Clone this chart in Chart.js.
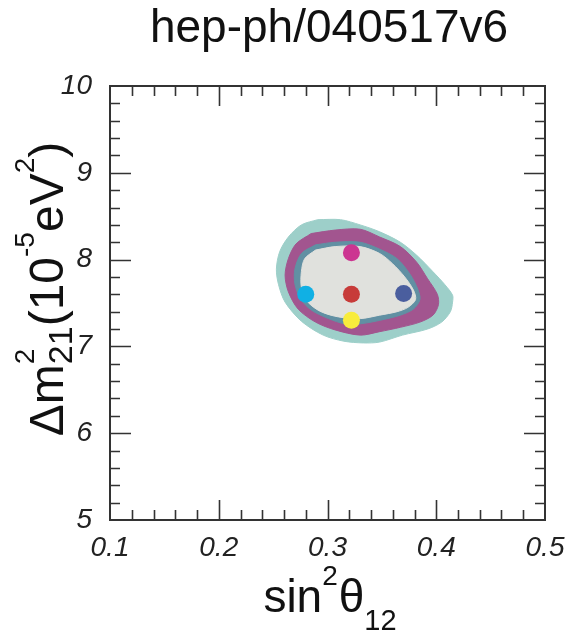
<!DOCTYPE html>
<html>
<head>
<meta charset="utf-8">
<title>hep-ph/040517v6</title>
<script src="https://cdn.jsdelivr.net/npm/chart.js@4.4.0/dist/chart.umd.min.js"></script>
<style>
  html, body { margin: 0; padding: 0; background: #fff; }
  #wrap { width: 569px; height: 633px; position: relative; }
</style>
</head>
<body>
<div id="wrap"><canvas id="fitChart"></canvas></div>
<script>
// Allowed regions in the (sin^2 theta12, dm^2_21) plane, outermost first
const outerX = [0.291, 0.312, 0.330, 0.348, 0.367, 0.382, 0.397, 0.408, 0.415, 0.415, 0.413, 0.405, 0.392, 0.369, 0.348, 0.333, 0.315, 0.296, 0.276, 0.261, 0.255, 0.253, 0.256, 0.264, 0.276];
const outerY = [8.46, 8.46, 8.40, 8.32, 8.20, 8.05, 7.86, 7.71, 7.59, 7.51, 7.40, 7.28, 7.20, 7.13, 7.05, 7.04, 7.06, 7.13, 7.29, 7.51, 7.71, 7.89, 8.09, 8.26, 8.40];

const midX = [0.285, 0.307, 0.330, 0.348, 0.367, 0.382, 0.392, 0.401, 0.402, 0.397, 0.385, 0.367, 0.348, 0.330, 0.307, 0.289, 0.273, 0.264, 0.261, 0.264, 0.271];
const midY = [8.30, 8.34, 8.35, 8.26, 8.15, 7.97, 7.78, 7.60, 7.48, 7.36, 7.28, 7.22, 7.17, 7.13, 7.19, 7.28, 7.43, 7.63, 7.82, 8.01, 8.18];

const bandX = [0.289, 0.307, 0.330, 0.348, 0.364, 0.376, 0.383, 0.385, 0.379, 0.367, 0.348, 0.330, 0.316, 0.301, 0.285, 0.275, 0.270, 0.270, 0.276];
const bandY = [8.17, 8.20, 8.20, 8.12, 8.01, 7.83, 7.66, 7.54, 7.43, 7.36, 7.30, 7.26, 7.26, 7.32, 7.42, 7.55, 7.72, 7.89, 8.07];

const innerX = [0.289, 0.307, 0.330, 0.348, 0.360, 0.371, 0.379, 0.381, 0.374, 0.364, 0.348, 0.330, 0.310, 0.294, 0.282, 0.276, 0.276, 0.279];
const innerY = [8.11, 8.15, 8.15, 8.07, 7.95, 7.80, 7.65, 7.54, 7.45, 7.40, 7.36, 7.32, 7.34, 7.40, 7.51, 7.68, 7.86, 8.01];

// Best-fit / benchmark points
const dotX = [0.322, 0.322, 0.280, 0.370, 0.322];
const dotY = [8.08, 7.60, 7.60, 7.61, 7.30];

// Axis ranges and tick steps
const xRange = [0.1, 0.5];
const yRange = [5, 10];
const xMajor = 0.1, xMinor = 0.02;
const yMajor = 1, yMinor = 0.2;

const dotColors = ['#cc3591', '#c73b39', '#10b0e4', '#4a5e9e', '#f8ec3c'];
const regionColors = ['#9dcfc9', '#a2558f', '#6190a3', '#e0e1dd'];

const FONT = '"Liberation Sans", Arial, Helvetica, sans-serif';
const font = (size, style) => (style ? style + ' ' : '') + size + 'px ' + FONT;

function closed(xs, ys) {
    const pts = xs.map((x, i) => ({ x: x, y: ys[i] }));
    pts.push(pts[0]);
    return pts;
}

function region(xs, ys, color, order) {
    return {
        data: closed(xs, ys),
        showLine: true,
        fill: 'shape',
        backgroundColor: color,
        borderColor: color,
        borderWidth: 1,
        pointRadius: 0,
        tension: 0.3,
        order: order
    };
}

// Text with super/subscripts; parts are laid out along the baseline
function drawRich(ctx, parts, cx, cy, angle) {
    const widths = parts.map(p => {
        ctx.font = font(p.size);
        let w = ctx.measureText(p.text).width;
        if (p.under) {
            ctx.font = font(p.under.size);
            w = Math.max(w, ctx.measureText(p.under.text).width);
        }
        return w + (p.kern || 0);
    });
    const total = widths.reduce((a, b) => a + b, 0);
    ctx.save();
    ctx.translate(cx, cy);
    ctx.rotate(angle);
    ctx.textAlign = 'left';
    ctx.textBaseline = 'alphabetic';
    ctx.fillStyle = '#111';
    let x = -total / 2;
    parts.forEach((p, i) => {
        ctx.font = font(p.size);
        ctx.fillText(p.text, x, p.shift || 0);
        if (p.under) {
            ctx.font = font(p.under.size);
            ctx.fillText(p.under.text, x, p.under.shift);
        }
        x += widths[i];
    });
    ctx.restore();
}

const framePlugin = {
    id: 'frame',
    afterDraw(chart) {
        const ctx = chart.ctx;
        const a = chart.chartArea;
        const xs = chart.scales.x, ys = chart.scales.y;
        ctx.save();
        ctx.strokeStyle = '#333';
        ctx.lineWidth = 2;
        ctx.strokeRect(a.left, a.top, a.right - a.left, a.bottom - a.top);

        // inward ticks on all four sides
        ctx.lineWidth = 1.6;
        ctx.beginPath();
        const nx = Math.round((xRange[1] - xRange[0]) / xMinor);
        for (let i = 1; i < nx; i++) {
            const v = xRange[0] + i * xMinor;
            const px = Math.round(xs.getPixelForValue(v)) + 0.5;
            const len = i % Math.round(xMajor / xMinor) === 0 ? 20 : 10;
            ctx.moveTo(px, a.bottom); ctx.lineTo(px, a.bottom - len);
            ctx.moveTo(px, a.top); ctx.lineTo(px, a.top + len);
        }
        const ny = Math.round((yRange[1] - yRange[0]) / yMinor);
        for (let i = 1; i < ny; i++) {
            const v = yRange[0] + i * yMinor;
            const py = Math.round(ys.getPixelForValue(v)) + 0.5;
            const len = i % Math.round(yMajor / yMinor) === 0 ? 21 : 10;
            ctx.moveTo(a.left, py); ctx.lineTo(a.left + len, py);
            ctx.moveTo(a.right, py); ctx.lineTo(a.right - len, py);
        }
        ctx.stroke();

        // title
        ctx.fillStyle = '#111';
        ctx.font = font(46);
        ctx.textAlign = 'center';
        ctx.textBaseline = 'alphabetic';
        ctx.fillText('hep-ph/040517v6', 329, 42);
        ctx.restore();

        // axis titles
        drawRich(ctx, [
            { text: 'sin', size: 46 },
            { text: '2', size: 28, shift: -27, kern: 1 },
            { text: 'θ', size: 46 },
            { text: '12', size: 29, shift: 18 }
        ], 330, 612, 0);

        drawRich(ctx, [
            { text: 'Δm', size: 48 },
            { text: '2', size: 28, shift: -29, under: { text: '21', size: 34, shift: 9 } },
            { text: '(10', size: 48 },
            { text: '-5', size: 28, shift: -29 },
            { text: 'eV', size: 48 },
            { text: '2', size: 28, shift: -29 },
            { text: ')', size: 48 }
        ], 63, 289, -Math.PI / 2);
    }
};

const tickFont = { family: FONT, size: 28, style: 'italic' };

new Chart(document.getElementById('fitChart'), {
    type: 'scatter',
    data: {
        datasets: [
            {
                data: dotX.map((x, i) => ({ x: x, y: dotY[i] })),
                pointRadius: 8.5,
                pointBorderWidth: 0,
                pointBackgroundColor: dotColors,
                order: 0
            },
            region(innerX, innerY, regionColors[3], 1),
            region(bandX, bandY, regionColors[2], 2),
            region(midX, midY, regionColors[1], 3),
            region(outerX, outerY, regionColors[0], 4)
        ]
    },
    options: {
        responsive: true,
        maintainAspectRatio: false,
        animation: false,
        events: [],
        layout: { padding: { left: 0, top: 86, right: 24, bottom: 0 } },
        plugins: {
            legend: { display: false },
            tooltip: { enabled: false }
        },
        scales: {
            x: {
                type: 'linear',
                min: xRange[0],
                max: xRange[1],
                grid: { display: false },
                border: { display: false },
                ticks: {
                    stepSize: xMajor,
                    font: tickFont,
                    color: '#222',
                    padding: 3,
                    maxRotation: 0,
                    callback: v => v.toFixed(1)
                },
                afterFit(scale) { scale.height = 113; }
            },
            y: {
                type: 'linear',
                min: yRange[0],
                max: yRange[1],
                grid: { display: false },
                border: { display: false },
                ticks: {
                    stepSize: yMajor,
                    font: tickFont,
                    color: '#222',
                    padding: 10,
                    callback: v => String(v)
                },
                afterFit(scale) { scale.width = 110; }
            }
        }
    },
    plugins: [framePlugin]
});
</script>
</body>
</html>
